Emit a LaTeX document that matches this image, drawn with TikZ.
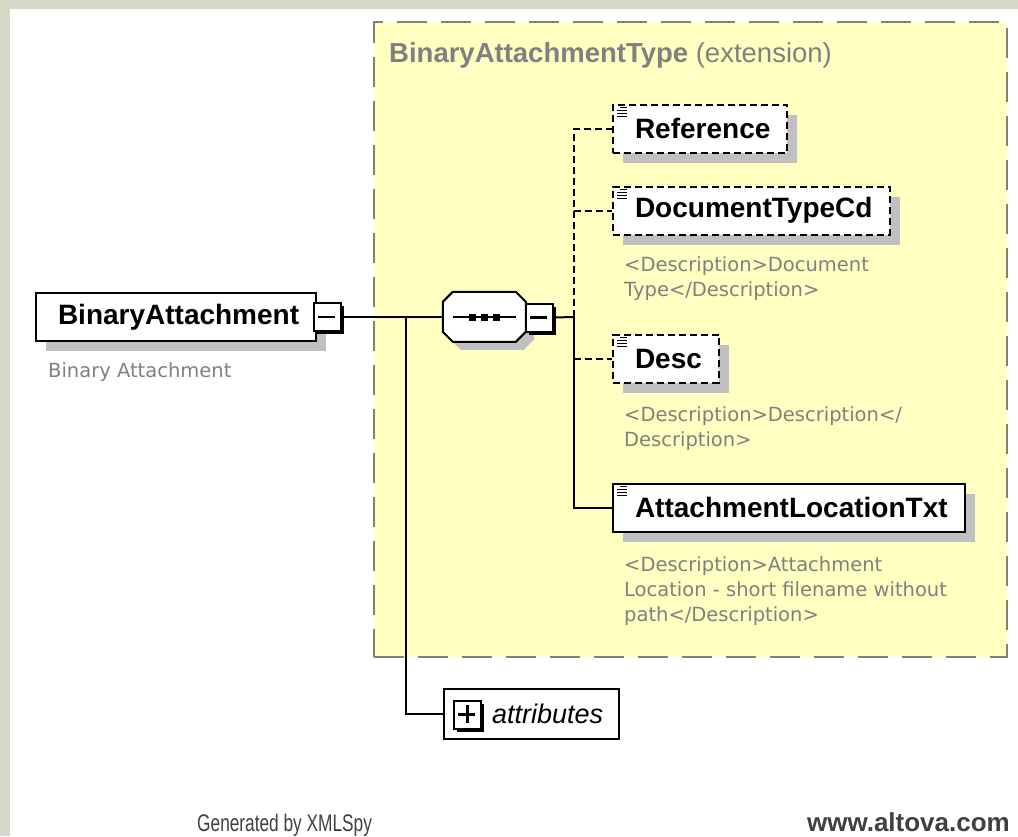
\documentclass[tikz,border=0pt]{standalone}
\usepackage{fontspec}
\setmainfont{Liberation Sans}
\newfontfamily\descfont{DejaVu Sans}
\newfontfamily\footfont[FakeStretch=0.72]{Liberation Sans}
\usetikzlibrary{shadows}

\definecolor{extyellow}{RGB}{255,255,194}
\definecolor{extborder}{RGB}{128,128,128}
\definecolor{shadegrey}{RGB}{192,192,192}
\definecolor{textgrey}{RGB}{128,128,128}
\definecolor{footgrey}{RGB}{64,64,64}
\definecolor{framebeige}{RGB}{214,217,199}

\tikzset{
  elem/.style={draw=black, line width=2pt, fill=white, anchor=west,
    minimum height=48pt, inner xsep=0pt, inner ysep=0pt,
    font=\fontsize{28}{30}\selectfont\bfseries,
    execute at begin node=\hspace*{22pt}, execute at end node=\hspace*{17pt},
    drop shadow={shadow xshift=10pt, shadow yshift=-10pt, opacity=1, fill=shadegrey}},
  optelem/.style={elem, dash pattern=on 7pt off 4pt},
  toggle/.style={draw=black, line width=2pt, fill=white, minimum width=27pt,
    minimum height=28pt, inner sep=0pt,
    drop shadow={shadow xshift=3pt, shadow yshift=-3pt, opacity=1, fill=black}},
  desc/.style={anchor=north west, align=left, inner sep=0pt, text=textgrey,
    font=\descfont\fontsize{19.5}{25}\selectfont},
  conn/.style={line width=2pt, draw=black},
  optconn/.style={conn, dash pattern=on 7pt off 4pt},
}

% little text marker in the top left corner of an element box
\newcommand{\txtmark}[1]{%
  \draw[line width=1pt, shift={(#1.north west)}] (8,3.5) -- (15,3.5)
    (5,6.5) -- (15,6.5) (5,9.5) -- (15,9.5) (5,12.5) -- (15,12.5);}

% octagon outline of a compositor, 83 x 50
\newcommand{\octpath}{(10,0) -- (73,0) -- (83,10) -- (83,40) -- (73,50) -- (10,50)
  -- (0,40) -- (0,10) -- cycle}

\begin{document}
\begin{tikzpicture}[x=1pt,y=-1pt]
  \useasboundingbox (0,0) rectangle (1018,836);
  \fill[white] (0,0) rectangle (1018,836);
  \fill[framebeige] (0,0) rectangle (1018,9);
  \fill[framebeige] (0,0) rectangle (10,836);

  % the extension type
  \node[draw=extborder, fill=extyellow, line width=2.5pt, dash pattern=on 30pt off 14pt,
    minimum width=633pt, minimum height=635pt, inner sep=0pt] (ext) at (690.5,339.5) {};
  \node[anchor=west, inner sep=0pt, text=textgrey, font=\fontsize{27.5}{30}\selectfont]
    (exttitle) at (389,55) {\textbf{BinaryAttachmentType} (extension)};

  % root element
  \node[elem] (bin) at (35,317) {BinaryAttachment};
  \node[toggle] (binmin) at (327,317) {};
  \draw[line width=2.2pt] (binmin.west) ++(5,0) -- ++(17,0);
  \node[desc] (bindesc) at (48,362) {Binary Attachment};

  % sequence compositor
  \node[minimum width=83pt, minimum height=50pt, inner sep=0pt] (seq) at (484.5,317) {};
  \fill[shadegrey, shift={(seq.north west)}, shift={(8,8)}] \octpath;
  \draw[line width=2pt, fill=white, shift={(seq.north west)}] \octpath;
  \draw[line width=2pt] (seq.west) ++(10,0) -- ++(63,0);
  \foreach \dx in {-12,0,12}
    \fill (seq.center) ++(\dx-3.5,-3.5) rectangle ++(7,7);
  \node[toggle] (seqmin) at (539.5,317.5) {};
  \draw[line width=2.2pt] (seqmin.west) ++(5,0) -- ++(17,0);

  % child elements
  \node[optelem] (ref) at (612,128.5) {Reference};
  \node[optelem] (doctype) at (612,210.5) {DocumentTypeCd};
  \node[desc] (doctypedesc) at (624,256) {<Description>Document\\Type</Description>};
  \node[optelem] (dsc) at (612,358.5) {Desc};
  \node[desc] (dscdesc) at (624,406) {<Description>Description</\\Description>};
  \node[elem] (loc) at (612,507.5) {AttachmentLocationTxt};
  \node[desc] (locdesc) at (624,556)
    {<Description>Attachment\\Location - short filename without\\path</Description>};
  \foreach \n in {ref,doctype,dsc,loc} {\txtmark{\n}}

  % attributes
  \node[draw=black, line width=2pt, fill=white, anchor=west, minimum height=50pt,
    inner sep=0pt, font=\fontsize{27}{30}\selectfont\itshape,
    execute at begin node=\hspace*{48pt}, execute at end node=\hspace*{16pt}]
    (attr) at (443,714) {attributes};
  \node[toggle] (attrplus) at (467.5,714.5) {};
  \draw[line width=2.2pt] (attrplus.west) ++(5,0) -- ++(17,0)
    (attrplus.north) ++(0,5) -- ++(0,18);

  % connectors
  \coordinate (j1) at (406,317);
  \coordinate (j2) at (574,317);
  \draw[conn] (binmin.east) -- (seq.west);
  \draw[conn] (j1) |- (attr.west);
  \draw[conn] (seqmin.east) -- (j2);
  \draw[optconn] (j2) -- (j2 |- ref.west) -- (ref.west);
  \draw[optconn] (j2 |- doctype.west) -- (doctype.west);
  \draw[optconn] (j2 |- dsc.west) -- (dsc.west);
  \draw[conn] (j2) |- (loc.west);

  % footer
  \node[anchor=base west, inner sep=0pt, text=footgrey, font=\footfont\fontsize{24}{26}\selectfont]
    (gen) at (197,831) {Generated by XMLSpy};
  \node[anchor=base east, inner sep=0pt, text=footgrey, font=\fontsize{26}{28}\selectfont\bfseries]
    (altova) at (1010,831) {www.altova.com};
\end{tikzpicture}
\end{document}
